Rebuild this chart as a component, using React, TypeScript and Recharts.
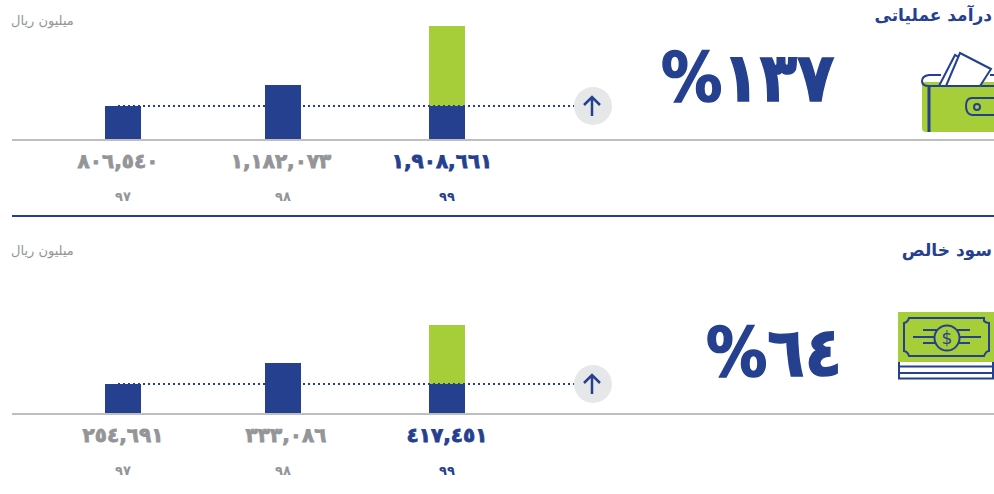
import { ComposedChart, Bar, XAxis, YAxis, ReferenceLine, ReferenceDot } from "recharts";

const BLUE = "#25408f";
const GREEN = "#a6ce39";
const GRAY = "#939598";
const FONT = "'DejaVu Sans', sans-serif";

const years = [97, 98, 99];
const yearLabels = ["٩٧", "٩٨", "٩٩"];

// bar heights as drawn in the picture; the printed figures are not to scale with them
const revenueBase = [34, 55, 34];
const revenueGain = [0, 0, 80];
const revenueLabels = ["٨٠٦,٥٤٠", "١,١٨٢,٠٧٣", "١,٩٠٨,٦٦١"];

const profitBase = [30, 51, 30];
const profitGain = [0, 0, 59];
const profitLabels = ["٢٥٤,٦٩١", "٣٣٣,٠٨٦", "٤١٧,٤٥١"];

// x axis runs on years, 162px per year, 97 sits at 123px
const toYear = (px: number) => 97 + (px - 123) / 162;

function YearTick({ x, y, payload, index, labels, shifts }: any) {
  const color = index === 2 ? BLUE : GRAY;
  const nudge = index === 1 ? -2 : 0;
  return (
    <g fontFamily={FONT} fontWeight={700} fill={color} textAnchor="middle">
      <text x={x + shifts[index]} y={y + 20} fontSize={20} letterSpacing={-1.8} stroke={color} strokeWidth={0.8}>
        {labels[index]}
      </text>
      <text x={x + nudge} y={y + 53} fontSize={13}>
        {yearLabels[years.indexOf(payload.value)]}
      </text>
    </g>
  );
}

function Badge({ cx, cy }: any) {
  return (
    <g>
      <circle cx={cx} cy={cy} r={19} fill="#e6e7e9" />
      <path
        d={`M${cx - 1} ${cy + 10}V${cy - 9}M${cx - 9} ${cy - 1}L${cx - 1} ${cy - 9}L${cx + 7} ${cy - 1}`}
        fill="none"
        stroke={BLUE}
        strokeWidth={2.5}
      />
    </g>
  );
}

function BarPiece({ x, y, width, height, fill, index }: any) {
  if (!height) return null;
  return <rect x={x + (index === 1 ? -2 : 0)} y={y} width={width} height={height} fill={fill} />;
}

function Panel({ top, height, maxY, base, gain, labels, level, shifts }: any) {
  const data = years.map((year, i) => ({ year, base: base[i], gain: gain[i] }));
  return (
    <div style={{ position: "absolute", left: 0, top }}>
      <ComposedChart width={994} height={height} data={data} margin={{ top: 0, right: 0, bottom: 0, left: 12 }}>
        <XAxis
          dataKey="year"
          type="number"
          domain={[toYear(12), toYear(994)]}
          ticks={years}
          interval={0}
          allowDataOverflow
          height={76}
          tickLine={false}
          axisLine={{ stroke: "#bcbec0", strokeWidth: 2 }}
          tick={<YearTick labels={labels} shifts={shifts} />}
        />
        <YAxis hide domain={[0, maxY]} />
        <Bar dataKey="base" stackId="a" fill={BLUE} barSize={36} isAnimationActive={false} shape={<BarPiece />} />
        <Bar dataKey="gain" stackId="a" fill={GREEN} barSize={36} isAnimationActive={false} shape={<BarPiece />} />
        <ReferenceLine
          segment={[
            { x: toYear(118), y: level },
            { x: toYear(574), y: level },
          ]}
          stroke={BLUE}
          strokeWidth={2}
          strokeDasharray="2 3"
        />
        <ReferenceDot x={toYear(593)} y={level} r={19} shape={<Badge />} />
      </ComposedChart>
    </div>
  );
}

function Label({ style, children }: any) {
  return (
    <div style={{ position: "absolute", fontFamily: FONT, whiteSpace: "nowrap", lineHeight: 1, ...style }}>
      {children}
    </div>
  );
}

function WalletIcon() {
  return (
    <svg width={994} height={140} style={{ position: "absolute", left: 0, top: 0 }}>
      <path d="M922 82H994V132H926Q922 132 922 128Z" fill={GREEN} />
      <path d="M939 86L955 55L982 71L975 86Z" fill="#fff" stroke={BLUE} strokeWidth={2} />
      <path d="M946 86L960 53L991 69L980 86Z" fill="#fff" stroke={BLUE} strokeWidth={2} />
      <path d="M945 86H929Q922 86 922 81T929 75H941M990 75H994" fill="none" stroke={BLUE} strokeWidth={2} />
      <path d="M981 86H994M929 86H945" stroke={BLUE} strokeWidth={2} />
      <path d="M929 86V132" stroke={BLUE} strokeWidth={3} />
      <path d="M994 98H972Q966 98 966 106T972 115H994" fill="none" stroke={BLUE} strokeWidth={2} />
      <circle cx={977} cy={107} r={3} fill="none" stroke={BLUE} strokeWidth={2} />
    </svg>
  );
}

function MoneyIcon() {
  return (
    <svg width={994} height={400} style={{ position: "absolute", left: 0, top: 0 }}>
      <rect x={898} y={312} width={96} height={50} fill={GREEN} />
      <path
        d="M909 318H984L984 321Q986 323 989 323V351Q986 351 984 356H909Q908 352 904 351V323Q908 322 909 318Z"
        fill="none"
        stroke={BLUE}
        strokeWidth={2}
      />
      <path
        d="M923 330H937M957 330H970M913 337H937M957 337H981M923 343H937M957 343H970"
        stroke={BLUE}
        strokeWidth={2}
      />
      <circle cx={947} cy={338} r={12.5} fill={GREEN} stroke={BLUE} strokeWidth={2} />
      <text x={947} y={344} fontSize={17} textAnchor="middle" fill={BLUE} fontFamily={FONT}>
        $
      </text>
      <path d="M899 362V379M993 362V379" stroke={BLUE} strokeWidth={2} />
      <path d="M898 366.5H994M898 373H994M898 378.5H994" stroke={BLUE} strokeWidth={2} />
    </svg>
  );
}

const bigNumber = {
  fontSize: 68,
  fontWeight: 700,
  color: BLUE,
  letterSpacing: -2,
  transform: "scaleX(0.9)",
  transformOrigin: "left top",
  WebkitTextStroke: `1.5px ${BLUE}`,
};

export default function App() {
  return (
    <div style={{ position: "absolute", left: 0, top: 0, width: 994, height: 494, overflow: "hidden", background: "#fff" }}>
      <Panel top={0} height={216} maxY={140} base={revenueBase} gain={revenueGain} labels={revenueLabels} level={34} shifts={[-5, -4, -5]} />
      <Panel top={230} height={260} maxY={184} base={profitBase} gain={profitGain} labels={profitLabels} level={30} shifts={[0, 1, 0]} />
      <div style={{ position: "absolute", left: 12, top: 215, width: 982, height: 2, background: BLUE }} />

      <Label style={{ right: 2, top: 7, fontSize: 17, fontWeight: 700, color: BLUE }}>درآمد عملیاتی</Label>
      <Label style={{ left: 11, top: 14, fontSize: 13, color: GRAY }}>میلیون ریال</Label>
      <Label style={{ left: 661, top: 44, ...bigNumber }}>%١٣٧</Label>

      <Label style={{ right: 2, top: 242, fontSize: 17, fontWeight: 700, color: BLUE }}>سود خالص</Label>
      <Label style={{ left: 11, top: 244, fontSize: 13, color: GRAY }}>میلیون ریال</Label>
      <Label style={{ left: 706, top: 319, ...bigNumber }}>%٦٤</Label>

      <WalletIcon />
      <MoneyIcon />
    </div>
  );
}
